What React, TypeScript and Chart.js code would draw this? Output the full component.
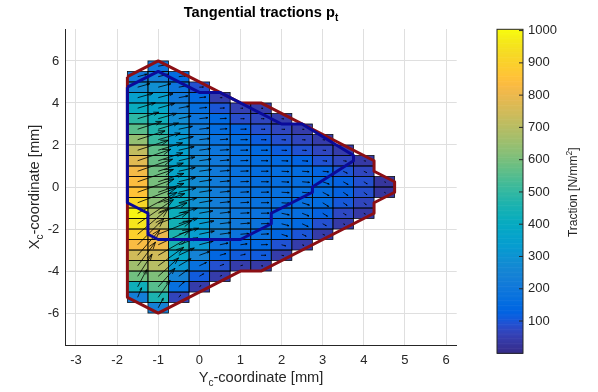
import React, { useEffect, useRef } from "react";
import { Chart, registerables } from "chart.js";

Chart.register(...registerables);

// ---------- axis ticks ----------
const xTicks = [-3, -2, -1, 0, 1, 2, 3, 4, 5, 6];
const yTicks = [-6, -4, -2, 0, 2, 4, 6];
const cbTicks = [100, 200, 300, 400, 500, 600, 700, 800, 900, 1000];

// ---------- grid of contact cells (0.5 mm) ----------
// column centres (Y_c, mm) and the upper edge of each column (X_c, mm); cells run from +top to -top
const colX = [-1.5, -1, -0.5, 0, 0.5, 1, 1.5, 2, 2.5, 3, 3.5, 4, 4.5];
const colTop = [5.5, 6, 5.5, 5, 4.5, 4, 4, 3.5, 3, 2.5, 2, 1.5, 0.5];

// traction magnitude [N/mm^2], listed top -> bottom for each column
const valM15 = [210, 280, 350, 410, 490, 560, 640, 720, 780, 820, 840, 860, 920, 990, 960, 900, 830, 750, 660, 590, 430, 230];
const valM10 = [200, 225, 290, 340, 380, 430, 470, 510, 565, 575, 585, 600, 605, 625, 680, 720, 800, 810, 750, 700, 610, 555, 460, 240];
const valM05 = [160, 190, 205, 235, 280, 310, 330, 350, 365, 375, 380, 390, 410, 425, 440, 460, 450, 380, 315, 245, 170, 65];
const val00 = [90, 145, 165, 190, 215, 240, 250, 265, 270, 275, 280, 290, 305, 330, 340, 320, 245, 175, 110, 45];
const val05 = [50, 100, 145, 160, 180, 195, 205, 210, 215, 220, 225, 235, 250, 245, 185, 140, 90, 45];
const val10 = [55, 85, 130, 155, 165, 170, 175, 180, 185, 190, 195, 205, 185, 150, 110, 45];
const val15 = [45, 70, 90, 115, 145, 155, 160, 165, 170, 175, 180, 185, 170, 145, 110, 40];
const val20 = [45, 70, 90, 115, 145, 160, 165, 170, 175, 175, 170, 140, 95, 45];
const val25 = [45, 70, 95, 130, 155, 165, 170, 170, 165, 150, 100, 45];
const val30 = [45, 70, 95, 130, 155, 160, 155, 125, 90, 42];
const val35 = [45, 70, 100, 125, 125, 105, 75, 40];
const val40 = [38, 70, 90, 88, 68, 38];
const val45 = [30, 28];

// traction direction (degrees above the +Y_c direction as seen), top -> bottom
const angM15 = [15, 16, 16, 17, 17, 18, 18, 18, 19, 19, 19, 20, 21, 28, 34, 40, 45, 49, 53, 57, 62, 68];
const angM10 = [10, 14, 15, 15, 16, 16, 17, 17, 17, 18, 18, 18, 19, 19, 20, 21, 22, 25, 30, 36, 42, 48, 55, 62];
const angM05 = [8, 10, 11, 11, 12, 12, 12, 13, 13, 13, 14, 14, 15, 15, 16, 17, 20, 25, 30, 36, 42, 50];
const ang00 = [3, 6, 6, 7, 7, 7, 8, 8, 8, 9, 9, 10, 10, 11, 12, 15, 20, 25, 30, 35];
const ang05 = [2, 3, 3, 4, 4, 4, 5, 5, 5, 6, 6, 7, 7, 8, 12, 16, 20, 25];
const ang10 = [0, 0, 1, 1, 1, 2, 2, 2, 3, 3, 3, 4, 5, 8, 12, 15];
const ang15 = [-3, -1, -1, 0, 0, 0, 0, 0, 1, 1, 1, 2, 3, 2, 0, -5];
const ang20 = [-3, -2, -2, -2, -2, -3, -3, -3, -4, -12, -15, -18, -15, -10];
const ang25 = [-4, -3, -3, -4, -4, -5, -6, -18, -22, -25, -25, -20];
const ang30 = [-5, -4, -5, -6, -20, -28, -32, -32, -28, -22];
const ang35 = [-6, -8, -25, -30, -35, -35, -30, -25];
const ang40 = [-10, -25, -32, -38, -38, -30];
const ang45 = [-25, -35];

const colValues = [valM15, valM10, valM05, val00, val05, val10, val15, val20, val25, val30, val35, val40, val45];
const colAngles = [angM15, angM10, angM05, ang00, ang05, ang10, ang15, ang20, ang25, ang30, ang35, ang40, ang45];

// contact area boundary (red) and stick-zone boundary (blue)
const outerX = [-1.75, -1, 1, 1.5, 4.25, 4.25, 4.75, 4.75, 4.25, 4.25, 1.5, 1, -1, -1.75, -1.75];
const outerY = [5.25, 6, 4, 4, 1.25, 0.75, 0.25, -0.25, -0.75, -1.25, -4, -4, -6, -5.25, 5.25];
const stickX = [-1.75, -1, 0, 0.5, 2, 2.5, 3.75, 3.75, 2.75, 2.75, 1.75, 1.75, 1, -1, -1.25, -1.25, -1.75, -1.75];
const stickY = [4.75, 5.5, 4.5, 4.5, 3, 3, 1.5, 1.25, 0, -0.25, -1.25, -1.75, -2.5, -2.5, -2.25, -1.25, -0.75, 4.75];

// ---------- styling constants ----------
const CELL = 0.5;
const X_MIN = -3.26, X_MAX = 6.26;
const Y_MIN = -7.52, Y_MAX = 7.52;
const C_MIN = 0, C_MAX = 1004;
const ARROW_SCALE = 0.045; // px per N/mm^2
const FONT = '"Liberation Sans", Arial, Helvetica, sans-serif';
const TEXT = "#262626";

const PARULA = [
  [0.2081, 0.1663, 0.5292], [0.2116, 0.1898, 0.5777], [0.2123, 0.2138, 0.627], [0.2081, 0.2386, 0.6771],
  [0.1959, 0.2645, 0.7279], [0.1707, 0.2919, 0.7792], [0.1253, 0.3242, 0.8303], [0.0591, 0.3598, 0.8683],
  [0.0117, 0.3875, 0.882], [0.006, 0.4086, 0.8828], [0.0165, 0.4266, 0.8786], [0.0329, 0.443, 0.872],
  [0.0498, 0.4586, 0.8641], [0.0629, 0.4737, 0.8554], [0.0723, 0.4887, 0.8467], [0.0779, 0.504, 0.8384],
  [0.0793, 0.52, 0.8312], [0.0749, 0.5375, 0.8263], [0.0641, 0.557, 0.824], [0.0488, 0.5772, 0.8228],
  [0.0343, 0.5966, 0.8199], [0.0265, 0.6137, 0.8135], [0.0239, 0.6287, 0.8038], [0.0231, 0.6418, 0.7913],
  [0.0228, 0.6535, 0.7768], [0.0267, 0.6642, 0.7607], [0.0384, 0.6743, 0.7436], [0.059, 0.6838, 0.7254],
  [0.0843, 0.6928, 0.7062], [0.1133, 0.7015, 0.6859], [0.1453, 0.7098, 0.6646], [0.1801, 0.7177, 0.6424],
  [0.2178, 0.725, 0.6193], [0.2586, 0.7317, 0.5954], [0.3022, 0.7376, 0.5712], [0.3482, 0.7424, 0.5473],
  [0.3953, 0.7459, 0.5244], [0.442, 0.7481, 0.5033], [0.4871, 0.7491, 0.484], [0.53, 0.7491, 0.4661],
  [0.5709, 0.7485, 0.4494], [0.6099, 0.7473, 0.4337], [0.6473, 0.7456, 0.4188], [0.6834, 0.7435, 0.4044],
  [0.7184, 0.7411, 0.3905], [0.7525, 0.7384, 0.3768], [0.7858, 0.7356, 0.3633], [0.8185, 0.7327, 0.3498],
  [0.8507, 0.7299, 0.336], [0.8824, 0.7274, 0.3217], [0.9139, 0.7258, 0.3063], [0.945, 0.7261, 0.2886],
  [0.9739, 0.7314, 0.2666], [0.9938, 0.7455, 0.2403], [0.999, 0.7653, 0.2164], [0.9955, 0.7861, 0.1967],
  [0.988, 0.8066, 0.1794], [0.9789, 0.8271, 0.1633], [0.9697, 0.8481, 0.1475], [0.9626, 0.8705, 0.1309],
  [0.9589, 0.8949, 0.1132], [0.9598, 0.9218, 0.0948], [0.9661, 0.9514, 0.0755], [0.9763, 0.9831, 0.0538],
];

function cmap(v: number): string {
  const t = Math.max(0, Math.min(1, (v - C_MIN) / (C_MAX - C_MIN)));
  const f = t * (PARULA.length - 1);
  const i = Math.floor(f);
  const j = Math.min(i + 1, PARULA.length - 1);
  const w = f - i;
  const c = [0, 1, 2].map((k) => Math.round(255 * (PARULA[i][k] * (1 - w) + PARULA[j][k] * w)));
  return `rgb(${c[0]},${c[1]},${c[2]})`;
}

type Part = { t: string; size: number; bold?: boolean; dy?: number };

function drawParts(ctx: CanvasRenderingContext2D, parts: Part[], x: number, y: number) {
  const fontOf = (p: Part) => `${p.bold ? "bold " : ""}${p.size}px ${FONT}`;
  const widths = parts.map((p) => {
    ctx.font = fontOf(p);
    return ctx.measureText(p.t).width;
  });
  const total = widths.reduce((a, b) => a + b, 0);
  let cx = x - total / 2;
  ctx.textAlign = "left";
  ctx.textBaseline = "alphabetic";
  parts.forEach((p, i) => {
    ctx.font = fontOf(p);
    ctx.fillText(p.t, cx, y + (p.dy || 0));
    cx += widths[i];
  });
}

const fieldPlugin = {
  id: "tractionField",
  beforeDatasetsDraw(chart: any) {
    const { ctx } = chart;
    const xs = chart.scales.x;
    const ys = chart.scales.y;
    ctx.save();
    // coloured cells
    colX.forEach((cx, ci) => {
      const top = colTop[ci];
      colValues[ci].forEach((v, ri) => {
        const y0 = top - ri * CELL;
        const px0 = xs.getPixelForValue(cx - CELL / 2);
        const px1 = xs.getPixelForValue(cx + CELL / 2);
        const py0 = ys.getPixelForValue(y0);
        const py1 = ys.getPixelForValue(y0 - CELL);
        ctx.fillStyle = cmap(v);
        ctx.fillRect(px0, py0, px1 - px0, py1 - py0);
      });
    });
    // cell edges
    ctx.strokeStyle = "rgba(0,0,0,0.9)";
    ctx.lineWidth = 0.8;
    colX.forEach((cx, ci) => {
      const top = colTop[ci];
      colValues[ci].forEach((_v, ri) => {
        const y0 = top - ri * CELL;
        const px0 = xs.getPixelForValue(cx - CELL / 2);
        const px1 = xs.getPixelForValue(cx + CELL / 2);
        const py0 = ys.getPixelForValue(y0);
        const py1 = ys.getPixelForValue(y0 - CELL);
        ctx.strokeRect(px0, py0, px1 - px0, py1 - py0);
      });
    });
    // traction arrows (quiver)
    ctx.strokeStyle = "#000";
    ctx.lineWidth = 0.8;
    ctx.lineCap = "butt";
    colX.forEach((cx, ci) => {
      const top = colTop[ci];
      colValues[ci].forEach((v, ri) => {
        const yc = top - ri * CELL - CELL / 2;
        const a = (colAngles[ci][ri] * Math.PI) / 180;
        const L = v * ARROW_SCALE;
        const tx = xs.getPixelForValue(cx);
        const ty = ys.getPixelForValue(yc);
        const hx = tx + L * Math.cos(a);
        const hy = ty - L * Math.sin(a);
        const h = Math.min(0.25 * L, 10);
        const ha = (18 * Math.PI) / 180;
        ctx.beginPath();
        ctx.moveTo(tx, ty);
        ctx.lineTo(hx, hy);
        ctx.moveTo(hx - h * Math.cos(a - ha), hy + h * Math.sin(a - ha));
        ctx.lineTo(hx, hy);
        ctx.lineTo(hx - h * Math.cos(a + ha), hy + h * Math.sin(a + ha));
        ctx.stroke();
      });
    });
    ctx.restore();
  },
  afterDraw(chart: any) {
    const { ctx, chartArea } = chart;
    const midX = (chartArea.left + chartArea.right) / 2;
    const midY = (chartArea.top + chartArea.bottom) / 2;
    ctx.save();
    ctx.fillStyle = "#000";
    drawParts(ctx, [
      { t: "Tangential tractions p", size: 14.67, bold: true },
      { t: "t", size: 10, bold: true, dy: 4 },
    ], midX, 17);
    ctx.fillStyle = TEXT;
    drawParts(ctx, [
      { t: "Y", size: 14.67 },
      { t: "c", size: 10, dy: 4 },
      { t: "-coordinate [mm]", size: 14.67 },
    ], midX, 382);
    ctx.translate(39, midY);
    ctx.rotate(-Math.PI / 2);
    drawParts(ctx, [
      { t: "X", size: 14.67 },
      { t: "c", size: 10, dy: 4 },
      { t: "-coordinate [mm]", size: 14.67 },
    ], 0, 0);
    ctx.restore();
  },
};

const colorbarPlugin = {
  id: "colorbar",
  beforeDatasetsDraw(chart: any) {
    const { ctx, chartArea } = chart;
    const ys = chart.scales.y;
    ctx.save();
    const steps = 256;
    for (let k = 0; k < steps; k++) {
      const v0 = C_MIN + ((C_MAX - C_MIN) * k) / steps;
      const v1 = C_MIN + ((C_MAX - C_MIN) * (k + 1)) / steps;
      const p0 = ys.getPixelForValue(v0);
      const p1 = ys.getPixelForValue(v1);
      ctx.fillStyle = cmap((v0 + v1) / 2);
      ctx.fillRect(chartArea.left, p1, chartArea.right - chartArea.left, p0 - p1 + 0.6);
    }
    ctx.strokeStyle = TEXT;
    ctx.lineWidth = 1;
    ctx.strokeRect(chartArea.left, chartArea.top, chartArea.right - chartArea.left, chartArea.bottom - chartArea.top);
    ctx.beginPath();
    cbTicks.forEach((t) => {
      const py = ys.getPixelForValue(t);
      ctx.moveTo(chartArea.right, py);
      ctx.lineTo(chartArea.right - 4, py);
    });
    ctx.stroke();
    ctx.fillStyle = TEXT;
    ctx.translate(97, (chartArea.top + chartArea.bottom) / 2 + 1);
    ctx.rotate(-Math.PI / 2);
    drawParts(ctx, [
      { t: "Traction [N/mm", size: 12 },
      { t: "2", size: 8.5, dy: -5 },
      { t: "]", size: 12 },
    ], 0, 0);
    ctx.restore();
  },
};

export default function App() {
  const mainRef = useRef<HTMLCanvasElement>(null);
  const cbRef = useRef<HTMLCanvasElement>(null);

  useEffect(() => {
    const toPts = (xs: number[], ys: number[]) => xs.map((x, i) => ({ x, y: ys[i] }));
    const tickFont = { family: FONT, size: 13 };
    const plain = (v: any) => String(v);
    const main = new Chart(mainRef.current as HTMLCanvasElement, {
      type: "scatter",
      data: {
        datasets: [
          {
            label: "stick",
            data: toPts(stickX, stickY),
            showLine: true,
            borderColor: "#0a0a99",
            borderWidth: 3,
            pointRadius: 0,
            borderJoinStyle: "round",
            fill: false,
          },
          {
            label: "contact",
            data: toPts(outerX, outerY),
            showLine: true,
            borderColor: "#8c0f14",
            borderWidth: 3,
            pointRadius: 0,
            borderJoinStyle: "round",
            fill: false,
          },
        ],
      },
      options: {
        animation: false,
        responsive: false,
        events: [],
        layout: { padding: { left: 0, right: 598 - 456.7, top: 29, bottom: 0 } },
        plugins: { legend: { display: false }, tooltip: { enabled: false }, title: { display: false } },
        scales: {
          x: {
            type: "linear",
            min: X_MIN,
            max: X_MAX,
            afterBuildTicks: (s: any) => {
              s.ticks = xTicks.map((v) => ({ value: v }));
            },
            afterFit: (s: any) => {
              s.height = 392 - 345;
            },
            grid: { color: "#dfdfdf", drawTicks: false, lineWidth: 1 },
            border: { display: true, color: TEXT, width: 1 },
            ticks: { font: tickFont, color: TEXT, padding: 8, maxRotation: 0, autoSkip: false, callback: plain },
          },
          y: {
            type: "linear",
            min: Y_MIN,
            max: Y_MAX,
            afterBuildTicks: (s: any) => {
              s.ticks = yTicks.map((v) => ({ value: v }));
            },
            afterFit: (s: any) => {
              s.width = 65.3;
            },
            grid: { color: "#dfdfdf", drawTicks: false, lineWidth: 1 },
            border: { display: true, color: TEXT, width: 1 },
            ticks: { font: tickFont, color: TEXT, padding: 6, autoSkip: false, callback: plain },
          },
        },
      },
      plugins: [fieldPlugin],
    } as any);

    const cb = new Chart(cbRef.current as HTMLCanvasElement, {
      type: "scatter",
      data: { datasets: [] },
      options: {
        animation: false,
        responsive: false,
        events: [],
        layout: { padding: { left: 17, right: 0, top: 29.3, bottom: 392 - 353.3 } },
        plugins: { legend: { display: false }, tooltip: { enabled: false } },
        scales: {
          x: { display: false, min: 0, max: 1 },
          y: {
            position: "right",
            min: C_MIN,
            max: C_MAX,
            afterBuildTicks: (s: any) => {
              s.ticks = cbTicks.map((v) => ({ value: v }));
            },
            afterFit: (s: any) => {
              s.width = 75;
            },
            grid: { display: false, drawTicks: false },
            border: { display: false },
            ticks: { font: tickFont, color: TEXT, padding: 5, autoSkip: false, callback: plain },
          },
        },
      },
      plugins: [colorbarPlugin],
    } as any);

    return () => {
      main.destroy();
      cb.destroy();
    };
  }, []);

  return (
    <div style={{ position: "fixed", left: 0, top: 0, width: 598, height: 392, background: "#fff" }}>
      <canvas ref={mainRef} width={598} height={392} style={{ position: "absolute", left: 0, top: 0 }} />
      <canvas ref={cbRef} width={118} height={392} style={{ position: "absolute", left: 480, top: 0 }} />
    </div>
  );
}
